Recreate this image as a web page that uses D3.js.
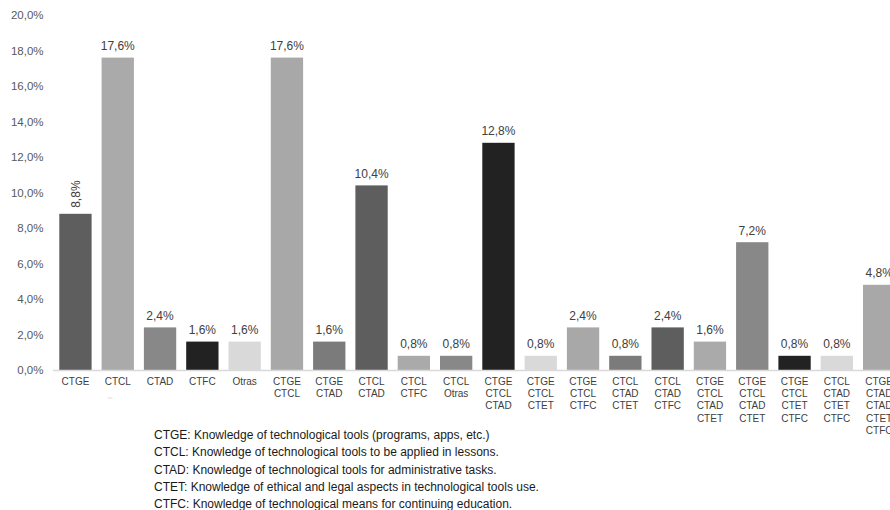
<!DOCTYPE html>
<html>
<head>
<meta charset="utf-8">
<script src="https://cdn.jsdelivr.net/npm/d3@7"></script>
<style>
  html, body { margin: 0; padding: 0; background: #fff; overflow: hidden; }
  svg { display: block; font-family: "Liberation Sans", Arial, sans-serif; }
</style>
</head>
<body>
<svg id="chart" width="890" height="510"></svg>
<script>
// ---- data ----
const categories = [
  "CTGE", "CTCL", "CTAD", "CTFC", "Otras",
  "CTGE\nCTCL", "CTGE\nCTAD", "CTCL\nCTAD", "CTCL\nCTFC", "CTCL\nOtras",
  "CTGE\nCTCL\nCTAD", "CTGE\nCTCL\nCTET", "CTGE\nCTCL\nCTFC", "CTCL\nCTAD\nCTET", "CTCL\nCTAD\nCTFC",
  "CTGE\nCTCL\nCTAD\nCTET", "CTGE\nCTCL\nCTAD\nCTET", "CTGE\nCTCL\nCTET\nCTFC", "CTCL\nCTAD\nCTET\nCTFC",
  "CTGE\nCTAD\nCTAD\nCTET\nCTFC"
];
const percentages = [8.8, 17.6, 2.4, 1.6, 1.6, 17.6, 1.6, 10.4, 0.8, 0.8, 12.8, 0.8, 2.4, 0.8, 2.4, 1.6, 7.2, 0.8, 0.8, 4.8];
const yTickValues = [0, 2, 4, 6, 8, 10, 12, 14, 16, 18, 20];
const rotatedLabelIndex = [0];
const legendLines = [
  "CTGE: Knowledge of technological tools (programs, apps, etc.)",
  "CTCL: Knowledge of technological tools to be applied in lessons.",
  "CTAD: Knowledge of technological tools for administrative tasks.",
  "CTET: Knowledge of ethical and legal aspects in technological tools use.",
  "CTFC: Knowledge of technological means for continuing education."
];

// ---- styles ----
const shadePalette = ["#5e5e5e", "#aaaaaa", "#888888", "#222222", "#d9d9d9", "#a8a8a8", "#7b7b7b"];
const fmt = v => d3.format(".1f")(v).replace(".", ",") + "%";

const svg = d3.select("#chart");

const x = d3.scaleBand()
  .domain(d3.range(categories.length))
  .range([54.3, 900.3])
  .paddingInner(0.236)
  .paddingOuter(0.118);

const y = d3.scaleLinear().domain([0, 20]).range([370, 15]);

const shade = d3.scaleOrdinal().domain(d3.range(7)).range(shadePalette);

// y axis (labels only)
const yAxis = d3.axisLeft(y).tickValues(yTickValues).tickFormat(v => fmt(v)).tickSize(0).tickPadding(0);
const yg = svg.append("g").attr("transform", "translate(43.5,0)").call(yAxis);
yg.select(".domain").remove();
yg.selectAll("text")
  .attr("fill", "#595959")
  .attr("font-size", "11.5px")
  .attr("font-family", "'Liberation Sans', Arial, sans-serif");

// bars
svg.append("g").selectAll("rect")
  .data(percentages)
  .join("rect")
  .attr("x", (d, i) => x(i))
  .attr("width", x.bandwidth())
  .attr("y", d => y(d))
  .attr("height", d => y(0) - y(d))
  .attr("fill", (d, i) => shade(i % 7));

// baseline
svg.append("line")
  .attr("x1", 53).attr("x2", 890)
  .attr("y1", y(0) + 0.5).attr("y2", y(0) + 0.5)
  .attr("stroke", "#d9d9d9").attr("stroke-width", 1.5);

// value labels
const vl = svg.append("g").attr("font-size", "12px").attr("fill", "#404040");
percentages.forEach((v, i) => {
  const cx = x(i) + x.bandwidth() / 2;
  if (rotatedLabelIndex.includes(i)) {
    vl.append("text")
      .attr("transform", `translate(${cx + 5},${y(v) - 6}) rotate(-90)`)
      .attr("text-anchor", "start")
      .text(fmt(v));
  } else {
    vl.append("text")
      .attr("x", cx)
      .attr("y", y(v) - 7.5)
      .attr("text-anchor", "middle")
      .text(fmt(v));
  }
});

// category labels
const cl = svg.append("g").attr("font-size", "10px").attr("fill", "#404040");
categories.forEach((c, i) => {
  const t = cl.append("text")
    .attr("x", x(i) + x.bandwidth() / 2)
    .attr("y", 385)
    .attr("text-anchor", "middle");
  c.split("\n").forEach((line, j) => {
    t.append("tspan")
      .attr("x", x(i) + x.bandwidth() / 2)
      .attr("y", 385 + j * 12.2)
      .text(line);
  });
});

// faint mark below second category
svg.append("line")
  .attr("x1", x(1) + 6).attr("x2", x(1) + 11)
  .attr("y1", 398).attr("y2", 398)
  .attr("stroke", "#dddddd").attr("stroke-width", 1);

// legend text
const lg = svg.append("g").attr("font-size", "12px").attr("fill", "#1a1a1a");
legendLines.forEach((line, i) => {
  lg.append("text")
    .attr("x", 154)
    .attr("y", 439.3 + i * 17.1)
    .text(line);
});
</script>
</body>
</html>
